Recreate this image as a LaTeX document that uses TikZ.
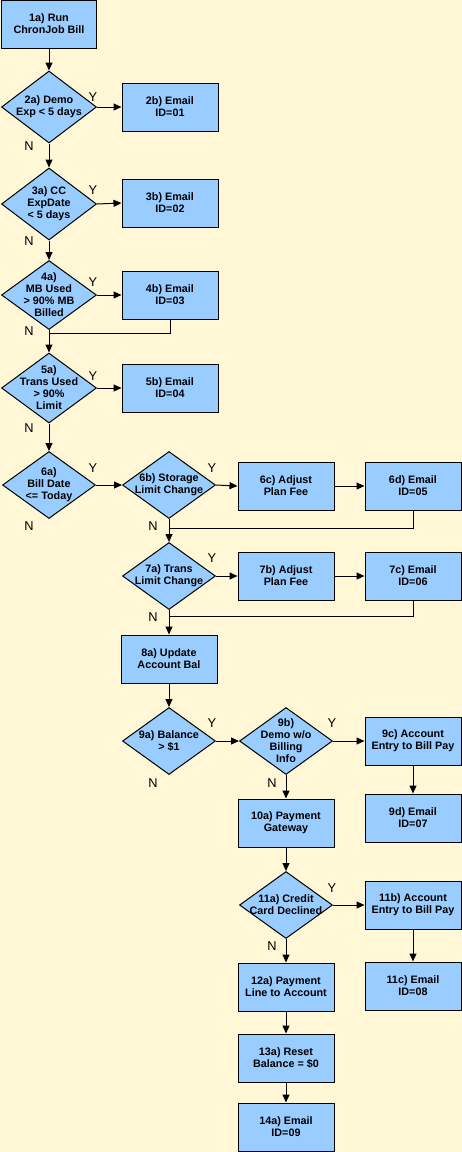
\documentclass[tikz,border=0pt]{standalone}
\usepackage{fontspec}
\setmainfont{Liberation Sans}
\usetikzlibrary{shapes.geometric,arrows.meta}
\definecolor{bg}{RGB}{255,247,214}
\definecolor{boxblue}{RGB}{153,204,255}
\begin{document}
\begin{tikzpicture}[x=1pt,y=-1pt,
 box/.style={draw=black, fill=boxblue, line width=1pt, minimum width=96pt, minimum height=48pt, inner sep=0pt, align=center, font=\fontsize{10.8}{12}\selectfont\bfseries},
 dia/.style={diamond, draw=black, fill=boxblue, line width=1pt, minimum width=93pt, minimum height=67pt, inner sep=0pt},
 dtext/.style={align=center, font=\fontsize{10.8}{12}\selectfont\bfseries, inner sep=0pt},
 yn/.style={font=\fontsize{12.8}{14}\selectfont, inner sep=0pt},
 arr/.style={-{Triangle[length=8pt,width=7pt]}, line width=1pt},
 ln/.style={line width=1pt}]
\fill[bg] (0,0) rectangle (462,1152);
\useasboundingbox (0,0) rectangle (462,1152);

% left column
\node[box, minimum width=95pt] (b1) at (49,24) {1a) Run\\ChronJob Bill};
\node[dia, minimum width=95pt, minimum height=72pt, label={[dtext]center:{2a) Demo\\Exp < 5 days}}] (d2) at (49,107) {};
\node[box] (b2) at (170,107) {2b) Email\\ID=01};
\node[dia, minimum width=95pt, minimum height=72pt, label={[dtext]center:{3a) CC\\ExpDate\\< 5 days}}] (d3) at (49,204) {};
\node[box] (b3) at (170,203) {3b) Email\\ID=02};
\node[dia, minimum width=95pt, minimum height=69pt, label={[dtext]center:{4a)\\MB Used\\> 90\% MB\\Billed}}] (d4) at (49,295) {};
\node[box] (b4) at (170,295) {4b) Email\\ID=03};
\node[dia, minimum width=95pt, minimum height=70pt, label={[dtext]center:{5a)\\Trans Used\\> 90\%\\Limit}}] (d5) at (49,388) {};
\node[box] (b5) at (170,388) {5b) Email\\ID=04};
\node[dia, label={[dtext]center:{6a)\\Bill Date\\<= Today}}] (d6) at (49,485) {};

% storage / trans
\node[dia, label={[dtext]center:{6b) Storage\\Limit Change}}] (d6b) at (169,485) {};
\node[box] (b6c) at (286,486) {6c) Adjust\\Plan Fee};
\node[box] (b6d) at (413,486) {6d) Email\\ID=05};
\node[dia, label={[dtext]center:{7a) Trans\\Limit Change}}] (d7) at (169,576) {};
\node[box] (b7b) at (286,576) {7b) Adjust\\Plan Fee};
\node[box] (b7c) at (413,576) {7c) Email\\ID=06};
\node[box] (b8) at (169,659) {8a) Update\\Account Bal};
\node[dia, label={[dtext]center:{9a) Balance\\> \$1}}] (d9) at (169,741) {};
\node[dia, label={[dtext]center:{9b)\\Demo w/o\\Billing\\Info}}] (d9b) at (286,741) {};
\node[box] (b9c) at (413,741) {9c) Account\\Entry to Bill Pay};
\node[box] (b9d) at (413,818) {9d) Email\\ID=07};
\node[box] (b10) at (286,823) {10a) Payment\\Gateway};
\node[dia, label={[dtext]center:{11a) Credit\\Card Declined}}] (d11) at (286,905) {};
\node[box] (b11b) at (413,905) {11b) Account\\Entry to Bill Pay};
\node[box] (b11c) at (413,986) {11c) Email\\ID=08};
\node[box] (b12) at (286,987) {12a) Payment\\Line to Account};
\node[box] (b13) at (286,1058) {13a) Reset\\Balance = \$0};
\node[box] (b14) at (286,1127) {14a) Email\\ID=09};

% junction coordinates
\coordinate (j4) at (49,333);
\coordinate (j6) at (169,528);
\coordinate (j7) at (169,616);

% connectors
\draw[arr] (b1) -- (d2);
\draw[arr] (d2.east) -- (b2.west);
\draw[arr] (d2.south) -- (d3.north);
\draw[arr] (d3.east) -- (b3.west);
\draw[arr] (d3.south) -- (d4.north);
\draw[arr] (d4.east) -- (b4.west);
\draw[arr] (d4.south) -- (d5.north);
\draw[ln] (b4.south) |- (j4);
\draw[arr] (d5.east) -- (b5.west);
\draw[arr] (d5.south) -- (d6.north);
\draw[arr] (d6.east) -- (d6b.west);
\draw[arr] (d6b.east) -- (b6c.west);
\draw[arr] (b6c.east) -- (b6d.west);
\draw[arr] (d6b.south) -- (d7.north);
\draw[ln] (b6d.south) |- (j6);
\draw[arr] (d7.east) -- (b7b.west);
\draw[arr] (b7b.east) -- (b7c.west);
\draw[arr] (d7.south) -- (b8.north);
\draw[ln] (b7c.south) |- (j7);
\draw[arr] (b8.south) -- (d9.north);
\draw[arr] (d9.east) -- (d9b.west);
\draw[arr] (d9b.east) -- (b9c.west);
\draw[arr] (b9c.south) -- (b9d.north);
\draw[arr] (d9b.south) -- (b10.north);
\draw[arr] (b10.south) -- (d11.north);
\draw[arr] (d11.east) -- (b11b.west);
\draw[arr] (b11b.south) -- (b11c.north);
\draw[arr] (d11.south) -- (b12.north);
\draw[arr] (b12.south) -- (b13.north);
\draw[arr] (b13.south) -- (b14.north);

% Y / N labels
\node[yn] (y2) at (93,97) {Y};   \node[yn] (n2) at (29,146) {N};
\node[yn] (y3) at (93,190) {Y};  \node[yn] (n3) at (29,241) {N};
\node[yn] (y4) at (93,282) {Y};  \node[yn] (n4) at (29,331) {N};
\node[yn] (y5) at (93,376) {Y};  \node[yn] (n5) at (29,428) {N};
\node[yn] (y6) at (93,468) {Y};  \node[yn] (n6) at (29,526) {N};
\node[yn] (y6b) at (212,468) {Y}; \node[yn] (n6b) at (153,526) {N};
\node[yn] (y7) at (212,558) {Y}; \node[yn] (n7) at (153,617) {N};
\node[yn] (y9) at (212,723) {Y}; \node[yn] (n9) at (153,783) {N};
\node[yn] (y9b) at (332,723) {Y}; \node[yn] (n9b) at (272,783) {N};
\node[yn] (y11) at (332,888) {Y}; \node[yn] (n11) at (272,946) {N};
\end{tikzpicture}
\end{document}
